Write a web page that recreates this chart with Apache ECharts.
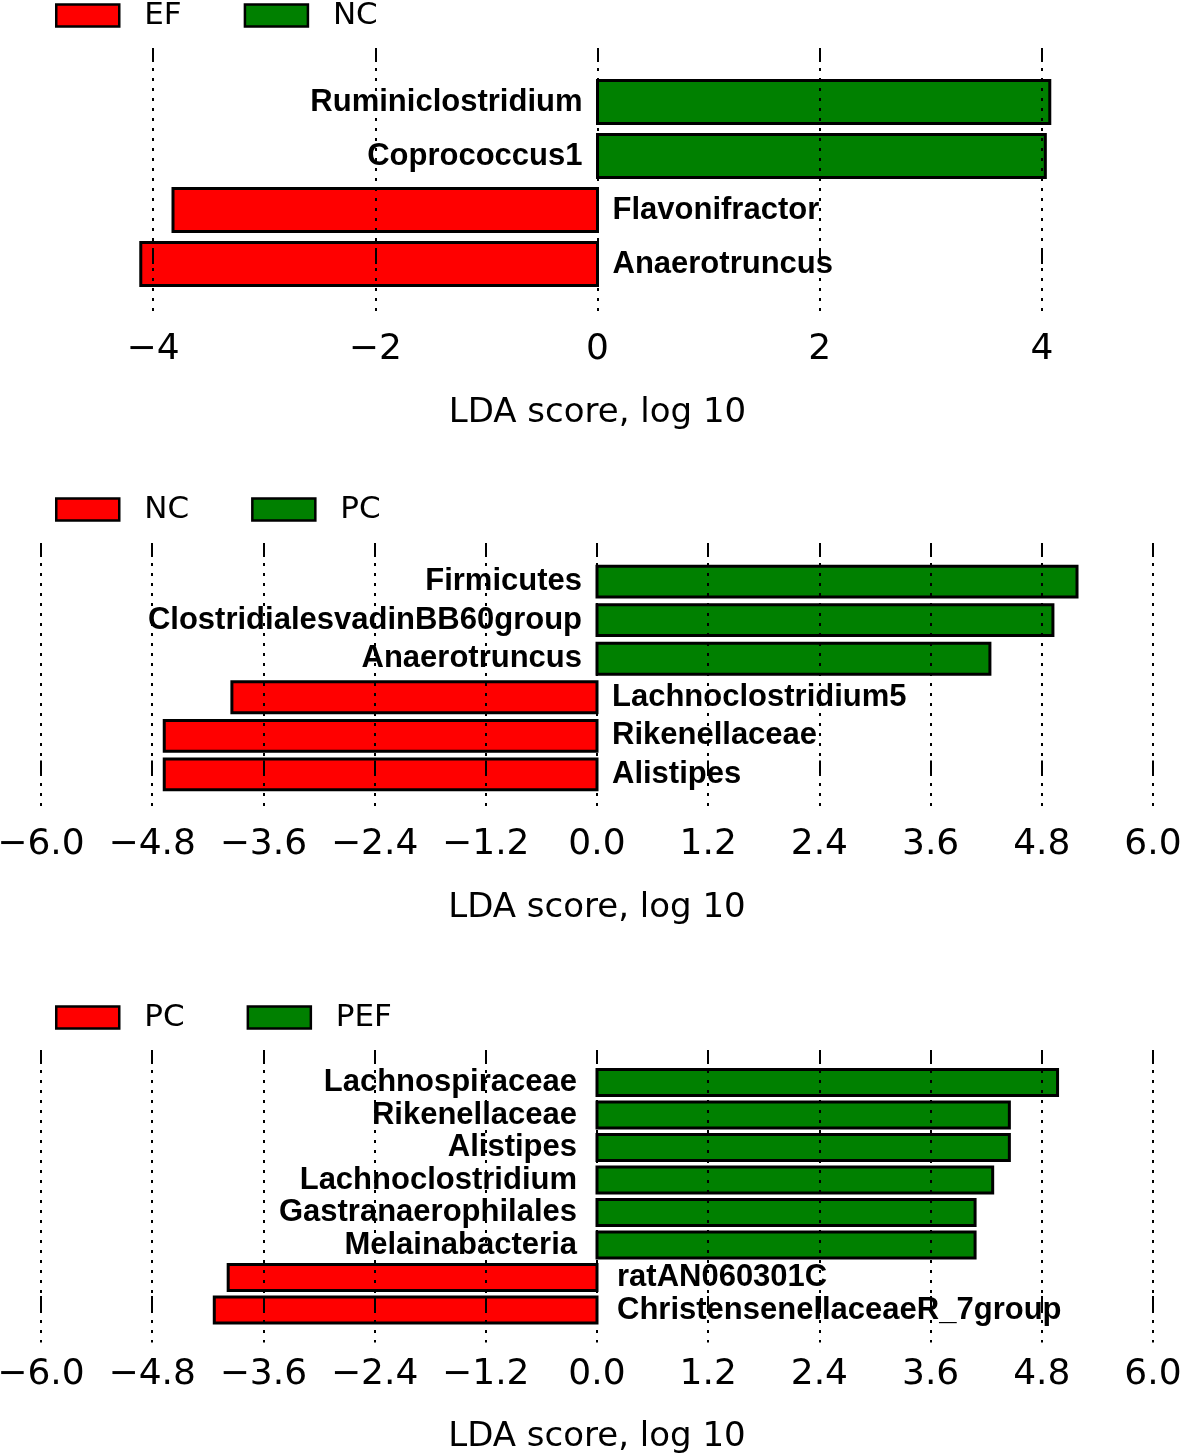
<!DOCTYPE html>
<html><head><meta charset="utf-8">
<script src="https://cdn.jsdelivr.net/npm/echarts@6/dist/echarts.min.js"></script>
<style>html,body{margin:0;padding:0;background:#fff}#c{width:1181px;height:1455px}</style>
</head><body><div id="c"></div>
<script>
// ---------- DATA ----------
// Panel 1: EF (red, negative) vs NC (green, positive)
const p1Groups = ['EF', 'NC'];
const p1Taxa   = ['Ruminiclostridium', 'Coprococcus1', 'Flavonifractor', 'Anaerotruncus'];
const p1Scores = [4.07, 4.03, -3.82, -4.11];
const p1Ticks  = [-4, -2, 0, 2, 4];

// Panel 2: NC (red) vs PC (green)
const p2Groups = ['NC', 'PC'];
const p2Taxa   = ['Firmicutes', 'ClostridialesvadinBB60group', 'Anaerotruncus',
                  'Lachnoclostridium5', 'Rikenellaceae', 'Alistipes'];
const p2Scores = [5.18, 4.92, 4.24, -3.94, -4.67, -4.67];
const p2Ticks  = [-6.0, -4.8, -3.6, -2.4, -1.2, 0.0, 1.2, 2.4, 3.6, 4.8, 6.0];

// Panel 3: PC (red) vs PEF (green)
const p3Groups = ['PC', 'PEF'];
const p3Taxa   = ['Lachnospiraceae', 'Rikenellaceae', 'Alistipes', 'Lachnoclostridium',
                  'Gastranaerophilales', 'Melainabacteria', 'ratAN060301C', 'ChristensenellaceaeR_7group'];
const p3Scores = [4.97, 4.45, 4.45, 4.27, 4.08, 4.08, -3.98, -4.13];
const p3Ticks  = [-6.0, -4.8, -3.6, -2.4, -1.2, 0.0, 1.2, 2.4, 3.6, 4.8, 6.0];

const axisTitle = 'LDA score, log 10';

// ---------- LAYOUT / STYLE ----------
const RED = '#ff0000', GREEN = '#008000';
const panels = [
  {groups: p1Groups, taxa: p1Taxa, scores: p1Scores, ticks: p1Ticks, dec: 0,
   top: 48, height: 270, left: 153, width: 889, legendTop: 0, labelGap: 15},
  {groups: p2Groups, taxa: p2Taxa, scores: p2Scores, ticks: p2Ticks, dec: 1,
   top: 543, height: 270, left: 41, width: 1112, legendTop: 494, labelGap: 15},
  {groups: p3Groups, taxa: p3Taxa, scores: p3Scores, ticks: p3Ticks, dec: 1,
   top: 1050, height: 292.5, left: 41, width: 1112, legendTop: 1002, labelGap: 20}
];

const fmt = (dec) => (v) => {
  const s = Math.abs(v).toFixed(dec);
  return (v < -1e-9 ? '\u2212' : '') + s;
};

const option = {
  animation: false,
  backgroundColor: '#fff',
  grid: [], xAxis: [], yAxis: [], series: [], legend: []
};

panels.forEach((p, k) => {
  const n = p.taxa.length;
  option.grid.push({left: p.left, top: p.top, width: p.width, height: p.height,
    containLabel: false, outerBoundsMode: 'none'});
  const tmin = p.ticks[0], tmax = p.ticks[p.ticks.length - 1];
  const interval = +(p.ticks[1] - p.ticks[0]).toFixed(6);
  const common = {type: 'value', gridIndex: k, min: tmin, max: tmax, interval: interval,
    axisLine: {show: false}};
  option.xAxis.push(Object.assign({}, common, {
    position: 'bottom', z: 10,
    axisTick: {show: true, inside: true, length: 14, lineStyle: {color: '#000', width: 2}},
    axisLabel: {show: true, margin: 14, formatter: fmt(p.dec), color: '#000',
      fontFamily: 'DejaVu Sans', fontSize: 36},
    splitLine: {show: true, lineStyle: {color: '#000', width: 2, type: [3, 7]}},
    name: axisTitle, nameLocation: 'middle', nameGap: 78,
    nameTextStyle: {fontFamily: 'DejaVu Sans', fontSize: 34, color: '#000'}
  }));
  option.xAxis.push(Object.assign({}, common, {
    position: 'top', z: 10,
    axisTick: {show: true, inside: true, length: 14, lineStyle: {color: '#000', width: 2}},
    axisLabel: {show: false}, splitLine: {show: false}
  }));
  option.yAxis.push({type: 'value', gridIndex: k, min: -1, max: n, show: false});

  [0, 1].forEach((g) => {
    const color = g === 0 ? RED : GREEN;
    const data = [];
    p.scores.forEach((v, i) => {
      if ((g === 0 && v < 0) || (g === 1 && v >= 0)) data.push([v, n - 1 - i, i]);
    });
    option.series.push({
      type: 'custom', name: p.groups[g], xAxisIndex: 2 * k, yAxisIndex: k, z: 2,
      clip: false,
      itemStyle: {color: color, borderColor: '#000', borderWidth: 3},
      data: data,
      renderItem: function (params, api) {
        const v = api.value(0), idx = api.value(1), ti = api.value(2);
        const p0 = api.coord([0, idx]);
        const p1 = api.coord([v, idx]);
        const h = api.size([0, 0.8])[1];
        const x = Math.min(p0[0], p1[0]);
        const w = Math.abs(p1[0] - p0[0]);
        return {type: 'group', children: [
          {type: 'rect', shape: {x: x, y: p0[1] - h / 2, width: w, height: h},
           style: {fill: color, stroke: '#000', lineWidth: 3}},
          {type: 'text', style: {
            text: p.taxa[ti],
            x: v >= 0 ? p0[0] - p.labelGap : p0[0] + p.labelGap,
            y: p0[1],
            align: v >= 0 ? 'right' : 'left', verticalAlign: 'middle',
            fontFamily: '"Liberation Sans", Arial, sans-serif', fontWeight: 'bold', fontSize: 31,
            fill: '#000'}}
        ]};
      }
    });
  });

  option.legend.push({
    left: 55, top: p.legendTop, padding: 0, orient: 'horizontal',
    itemWidth: 63, itemHeight: 22, itemGap: 62, icon: 'rect',
    selectedMode: false,
    textStyle: {fontFamily: 'DejaVu Sans', fontSize: 31, color: '#000', padding: [0, 0, 0, 20], lineHeight: 22},
    data: [
      {name: p.groups[0], itemStyle: {color: RED, borderColor: '#000', borderWidth: 2.5}},
      {name: p.groups[1], itemStyle: {color: GREEN, borderColor: '#000', borderWidth: 2.5}}
    ]
  });
});

const chart = echarts.init(document.getElementById('c'), null, {renderer: 'canvas'});
chart.setOption(option);
</script>
</body></html>
